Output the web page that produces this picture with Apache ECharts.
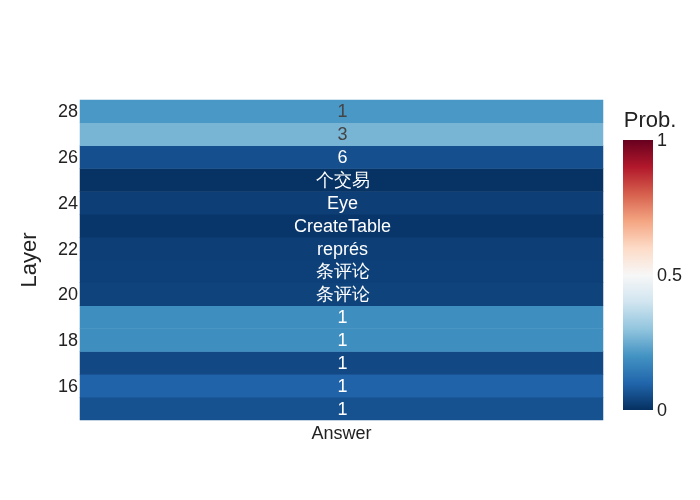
<!DOCTYPE html>
<html><head><meta charset="utf-8">
<script src="https://cdn.jsdelivr.net/npm/echarts@6/dist/echarts.min.js"></script>
<style>html,body{margin:0;padding:0;background:#fff}#c{width:700px;height:500px}</style>
</head><body><div id="c"></div>
<script>
// Layers bottom -> top
const layers = [15,16,17,18,19,20,21,22,23,24,25,26,27,28];
const answers = ['1','1','1','1','1','条评论','条评论','représ','CreateTable','Eye','个交易','6','3','1'];
const probs = [0.062,0.095,0.045,0.188,0.188,0.035,0.03,0.028,0.012,0.028,0.004,0.058,0.267,0.209];
const xCategories = ['Answer'];
const colorbarTicks = [0, 0.5, 1];

const rdbu = ['rgb(5,48,97)','rgb(33,102,172)','rgb(67,147,195)','rgb(146,197,222)','rgb(209,229,240)',
  'rgb(247,247,247)','rgb(253,219,199)','rgb(244,165,130)','rgb(214,96,77)','rgb(178,24,43)','rgb(103,0,31)'];
const FONT = '"Liberation Sans", Arial, sans-serif';

const heatData = layers.map((l, i) => [0, i, probs[i], answers[i]]);
const tickRich = {t: {fontSize: 18, color: '#222', fontFamily: FONT, padding: [2, 0, 0, 0]}};

const chart = echarts.init(document.getElementById('c'), null, {renderer: 'canvas'});
chart.setOption({
  backgroundColor: '#fff',
  animation: false,
  textStyle: {fontFamily: FONT},
  grid: [
    {left: 80, top: 100, width: 523, height: 320},
    {left: 623, top: 140, width: 30, height: 270}
  ],
  xAxis: [
    {type: 'category', gridIndex: 0, data: xCategories, position: 'bottom',
     axisLine: {show: false}, axisTick: {show: false}, splitLine: {show: false},
     axisLabel: {fontSize: 18, color: '#222', margin: 5, fontFamily: FONT}},
    {type: 'category', gridIndex: 1, data: ['cb'], show: false}
  ],
  yAxis: [
    {type: 'category', gridIndex: 0, data: layers.map(String),
     axisLine: {show: false}, axisTick: {show: false}, splitLine: {show: false},
     axisLabel: {fontSize: 18, color: '#222', margin: 2, fontFamily: FONT,
       formatter: v => '{t|' + v + '}', rich: tickRich,
       interval: (idx, val) => Number(val) % 2 === 0},
     name: 'Layer', nameLocation: 'middle', nameGap: 39,
     nameTextStyle: {fontSize: 22, color: '#222', fontFamily: FONT}},
    {type: 'value', gridIndex: 1, min: colorbarTicks[0], max: colorbarTicks[2], interval: colorbarTicks[1],
     position: 'right', axisLine: {show: false}, axisTick: {show: false}, splitLine: {show: false},
     axisLabel: {fontSize: 18, color: '#222', margin: 4, fontFamily: FONT,
       formatter: v => '{t|' + v + '}', rich: tickRich},
     name: 'Prob.', nameLocation: 'end', nameGap: 17,
     nameTextStyle: {fontSize: 22, color: '#222', fontFamily: FONT, align: 'center', verticalAlign: 'middle', padding: [0, 0, 0, -6]}}
  ],
  visualMap: {
    show: false, type: 'continuous', min: 0, max: 1, seriesIndex: 0, dimension: 2,
    inRange: {color: rdbu}
  },
  series: [
    {type: 'heatmap', xAxisIndex: 0, yAxisIndex: 0, data: heatData,
     itemStyle: {borderWidth: 0},
     label: {show: true, fontSize: 18, fontFamily: FONT, padding: [2, 0, 0, 2],
       formatter: p => (p.data[2] > 0.2 ? '{d|' : '{w|') + p.data[3] + '}',
       rich: {d: {color: '#444', fontSize: 18, fontFamily: FONT}, w: {color: '#fff', fontSize: 18, fontFamily: FONT}}},
     emphasis: {disabled: true}},
    {type: 'bar', xAxisIndex: 1, yAxisIndex: 1, data: [colorbarTicks[2]], barWidth: '100%', silent: true,
     itemStyle: {color: {type: 'linear', x: 0, y: 1, x2: 0, y2: 0,
       colorStops: rdbu.map((c, i) => ({offset: i / (rdbu.length - 1), color: c}))}}}
  ]
});
</script></body></html>
